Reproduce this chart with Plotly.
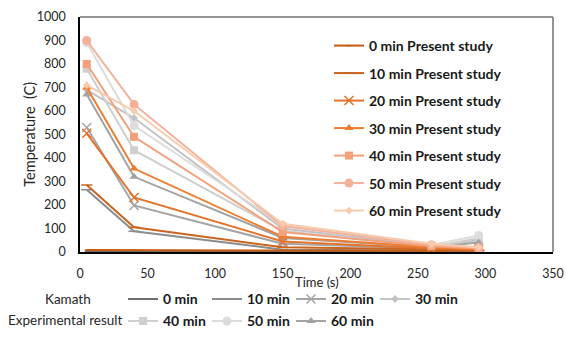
import plotly.graph_objects as go

time_s = [5, 40, 150, 260, 295]

present_names = ["0 min Present study", "10 min Present study", "20 min Present study",
                 "30 min Present study", "40 min Present study", "50 min Present study",
                 "60 min Present study"]
present_vals = [
    [8, 8, 6, 5, 5],
    [285, 105, 20, 10, 8],
    [505, 232, 45, 15, 10],
    [700, 355, 65, 20, 12],
    [800, 490, 85, 25, 15],
    [900, 628, 110, 30, 18],
    [710, 600, 120, 35, 20],
]
kamath_names = ["0 min", "10 min", "20 min", "30 min", "40 min", "50 min", "60 min"]
kamath_vals = [
    [3, 2, 2, 2, 2],
    [265, 88, 10, 5, 5],
    [530, 198, 35, 15, 20],
    [690, 570, 100, 25, 50],
    [780, 433, 90, 20, 60],
    [890, 538, 115, 30, 70],
    [670, 320, 60, 20, 40],
]
x_ticks = [0, 50, 100, 150, 200, 250, 300, 350]
y_ticks = [0, 100, 200, 300, 400, 500, 600, 700, 800, 900, 1000]

present_colors = ["#C55A11", "#C9651F", "#E3722C", "#ED7D31", "#F4A07A", "#F5B09A", "#F8CBAD"]
present_symbols = ["line-ew", "line-ew", "x-thin-open", "triangle-up", "square", "circle", "diamond"]
present_sizes = [3, 8, 9, 8, 8, 9, 6]
kamath_colors = ["#6E6E6E", "#8C8C8C", "#A5A5A5", "#C3C3C3", "#CFCFCF", "#DCDCDC", "#A3A3A3"]
kamath_symbols = ["line-ew", "line-ew", "x-thin-open", "diamond", "square", "circle", "triangle-up"]
kamath_sizes = [3, 8, 9, 6, 8, 9, 8]

FONT = "Lato"
fig = go.Figure()

for i, name in enumerate(kamath_names):
    sym = kamath_symbols[i]
    open_like = sym.startswith("line") or sym.startswith("x-thin")
    fig.add_trace(go.Scatter(
        x=time_s, y=kamath_vals[i], name=name, mode="lines+markers",
        line=dict(color=kamath_colors[i], width=2),
        marker=dict(symbol=sym, size=kamath_sizes[i], color=kamath_colors[i],
                    line=dict(color=kamath_colors[i], width=1.5 if open_like else 0)),
        legend="legend2" if i < 4 else "legend3",
    ))

for i, name in enumerate(present_names):
    sym = present_symbols[i]
    open_like = sym.startswith("line") or sym.startswith("x-thin")
    fig.add_trace(go.Scatter(
        x=time_s, y=present_vals[i], name=name, mode="lines+markers",
        line=dict(color=present_colors[i], width=2),
        marker=dict(symbol=sym, size=present_sizes[i], color=present_colors[i],
                    line=dict(color=present_colors[i], width=1.5 if open_like else 0)),
        legend="legend", legendgroup="p%d" % i,
    ))

L, R, T, B = 80, 13, 17, 84.5
PW, PH = 566 - L - R, 337 - T - B


def px_y(py):
    return (337 - B - py) / PH


def px_x(px):
    return (px - L) / PW


fig.update_layout(
    width=566, height=337,
    margin=dict(l=L, r=R, t=T, b=B, autoexpand=False),
    paper_bgcolor="white", plot_bgcolor="white",
    font=dict(family=FONT, size=12, color="#262626"),
    xaxis=dict(range=[0, 350], tickvals=x_ticks, showgrid=False, zeroline=False,
               showline=True, linecolor="black", linewidth=1.5,
               ticks="outside", ticklen=9, tickcolor="rgba(0,0,0,0)",
               tickfont=dict(size=12.5, color="#262626")),
    yaxis=dict(range=[0, 1000], tickvals=y_ticks, showgrid=False, zeroline=False,
               showline=True, linecolor="black", linewidth=1.5,
               ticks="outside", ticklen=10, tickcolor="rgba(0,0,0,0)",
               tickfont=dict(size=12.5, color="#262626")),
    legend=dict(x=px_x(329), y=px_y(30), xanchor="left", yanchor="top", bgcolor="rgba(0,0,0,0)",
                font=dict(family=FONT, size=14, color="#1a1a1a", weight="bold"),
                traceorder="grouped", tracegroupgap=6.3),
    legend2=dict(orientation="h", x=px_x(123), y=px_y(300), xanchor="left", yanchor="middle",
                 bgcolor="rgba(0,0,0,0)", entrywidth=39, entrywidthmode="pixels",
                 font=dict(family=FONT, size=14, color="#1a1a1a", weight="bold")),
    legend3=dict(orientation="h", x=px_x(123), y=px_y(322), xanchor="left", yanchor="middle",
                 bgcolor="rgba(0,0,0,0)", entrywidth=39, entrywidthmode="pixels",
                 font=dict(family=FONT, size=14, color="#1a1a1a", weight="bold")),
    shapes=[
        dict(type="line", xref="paper", yref="paper", x0=0, x1=1, y0=1, y1=1,
             line=dict(color="#707070", width=1.5)),
        dict(type="line", xref="paper", yref="paper", x0=1, x1=1, y0=0, y1=1,
             line=dict(color="#707070", width=1.5)),
    ],
    annotations=[
        dict(text="Temperature\u00a0 (C)", xref="paper", yref="paper", x=px_x(30), y=px_y(135),
             xanchor="center", yanchor="middle", showarrow=False, textangle=-90,
             font=dict(size=14.5, color="#262626")),
        dict(text="Time (s)", xref="paper", yref="paper", x=0.5, y=px_y(283),
             xanchor="center", yanchor="middle", showarrow=False,
             font=dict(size=13, color="#262626")),
        dict(text="Kamath", xref="paper", yref="paper", x=px_x(68), y=px_y(300),
             xanchor="center", yanchor="middle", showarrow=False,
             font=dict(size=13.5, color="#262626")),
        dict(text="Experimental result", xref="paper", yref="paper", x=px_x(65), y=px_y(321),
             xanchor="center", yanchor="middle", showarrow=False,
             font=dict(size=13.5, color="#262626")),
    ],
)

fig.write_html("out.html")
